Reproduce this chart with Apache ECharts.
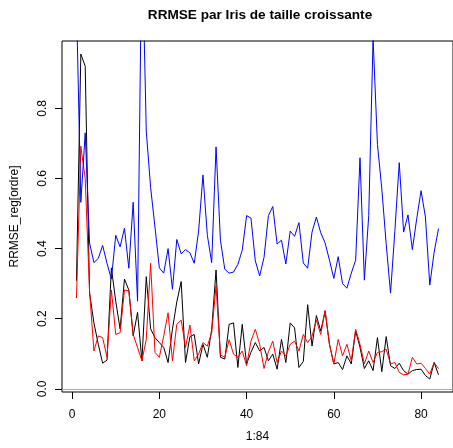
<!DOCTYPE html>
<html>
<head>
<meta charset="utf-8">
<script src="https://cdn.jsdelivr.net/npm/echarts@6/dist/echarts.min.js"></script>
<style>
  html, body { margin: 0; padding: 0; background: #fff; }
  #chart { width: 453px; height: 448px; }
</style>
</head>
<body>
<div id="chart"></div>
<script>
  // RRMSE par Iris (1:84), trois séries
  const rrmseNoir = [
    0.308, 0.955, 0.92, 0.273, 0.188, 0.127, 0.073, 0.082, 0.345, 0.25,
    0.171, 0.313, 0.282, 0.151, 0.218, 0.08, 0.32, 0.171, 0.146, 0.132,
    0.118, 0.075, 0.17, 0.248, 0.306, 0.075, 0.149, 0.155, 0.071, 0.127,
    0.09, 0.17, 0.339, 0.09, 0.085, 0.184, 0.188, 0.061, 0.184, 0.071,
    0.104, 0.132, 0.108, 0.118, 0.08, 0.099, 0.056, 0.141, 0.075, 0.188,
    0.174, 0.061, 0.078, 0.24, 0.122, 0.209, 0.165, 0.221, 0.127, 0.071,
    0.075, 0.055, 0.094, 0.071, 0.165, 0.118, 0.058, 0.08, 0.052, 0.146,
    0.049, 0.149, 0.066, 0.058, 0.073, 0.052, 0.042, 0.052, 0.055, 0.056,
    0.038, 0.028, 0.075, 0.04
  ];
  const rrmseRouge = [
    0.259, 0.692, 0.6, 0.278, 0.108, 0.151, 0.146, 0.09, 0.282, 0.155,
    0.16, 0.282, 0.28, 0.155, 0.118, 0.08, 0.141, 0.358, 0.104, 0.09,
    0.151, 0.217, 0.08, 0.184, 0.196, 0.118, 0.182, 0.08, 0.099, 0.132,
    0.122, 0.16, 0.294, 0.097, 0.09, 0.14, 0.099, 0.09, 0.108, 0.066,
    0.136, 0.17, 0.127, 0.058, 0.106, 0.136, 0.075, 0.108, 0.094, 0.127,
    0.136, 0.108, 0.155, 0.132, 0.15, 0.196, 0.155, 0.224, 0.127, 0.071,
    0.141, 0.094, 0.127, 0.08, 0.17, 0.127, 0.071, 0.108, 0.075, 0.104,
    0.106, 0.113, 0.071, 0.075, 0.047, 0.04, 0.042, 0.09, 0.071, 0.073,
    0.058, 0.042, 0.075, 0.058
  ];
  const rrmseBleu = [
    1.1, 0.532, 0.73, 0.416, 0.36, 0.372, 0.409, 0.358, 0.313, 0.438,
    0.405, 0.458, 0.344, 0.532, 0.25, 1.3, 0.735, 0.574, 0.461, 0.345,
    0.33, 0.4, 0.284, 0.426, 0.385, 0.397, 0.388, 0.358, 0.45, 0.61,
    0.438, 0.36, 0.69, 0.424, 0.341, 0.33, 0.333, 0.355, 0.395, 0.494,
    0.487, 0.365, 0.322, 0.375, 0.494, 0.52, 0.413, 0.424, 0.356, 0.45,
    0.435, 0.474, 0.359, 0.344, 0.447, 0.49, 0.445, 0.416, 0.367, 0.315,
    0.377, 0.3, 0.287, 0.33, 0.367, 0.659, 0.31, 0.494, 1.0, 0.697,
    0.57, 0.414, 0.273, 0.452, 0.645, 0.447, 0.496, 0.397, 0.485, 0.565,
    0.49, 0.296, 0.39, 0.457
  ];
  const xTicks = [0, 20, 40, 60, 80];
  const yTicks = [0, 0.2, 0.4, 0.6, 0.8];

  const font = 'Liberation Sans, Arial, Helvetica, sans-serif';

  function pairs(values) {
    return values.map(function (v, i) {
      return [i + 1, v];
    });
  }

  function lineSerie(values, color) {
    return {
      type: 'line',
      data: pairs(values),
      showSymbol: false,
      symbol: 'none',
      clip: true,
      lineStyle: { color: color, width: 1 },
      animation: false
    };
  }

  const chart = echarts.init(document.getElementById('chart'));
  const options = {
    backgroundColor: '#fff',
    animation: false,
    title: {
      text: 'RRMSE par Iris de taille croissante',
      left: 260,
      top: 8,
      padding: 0,
      textAlign: 'center',
      textStyle: {
        fontFamily: font,
        fontSize: 13.6,
        fontWeight: 'bold',
        color: '#000'
      }
    },
    grid: {
      left: 62,
      top: 41,
      right: -5,
      bottom: 53,
      show: true,
      borderColor: '#000',
      borderWidth: 1,
      backgroundColor: 'transparent'
    },
    xAxis: {
      type: 'value',
      min: -2.32,
      max: 87.32,
      name: '1:84',
      nameLocation: 'middle',
      nameGap: 39,
      nameTextStyle: { fontFamily: font, fontSize: 12, color: '#000' },
      axisLine: { show: false, onZero: false },
      axisTick: {
        show: true,
        inside: false,
        length: 7,
        customValues: xTicks,
        lineStyle: { color: '#000' }
      },
      axisLabel: {
        customValues: xTicks,
        margin: 17,
        fontFamily: font,
        fontSize: 12,
        color: '#000'
      },
      splitLine: { show: false }
    },
    yAxis: {
      type: 'value',
      min: -0.009,
      max: 0.992,
      name: 'RRMSE_reg[ordre]',
      nameLocation: 'middle',
      nameRotate: 90,
      nameGap: 41,
      nameTextStyle: { fontFamily: font, fontSize: 12, color: '#000' },
      axisLine: { show: false, onZero: false },
      axisTick: {
        show: true,
        inside: false,
        length: 7,
        customValues: yTicks,
        lineStyle: { color: '#000' }
      },
      axisLabel: {
        customValues: yTicks,
        rotate: 90,
        margin: 13,
        fontFamily: font,
        fontSize: 12,
        color: '#000',
        formatter: function (v) {
          return v.toFixed(1);
        }
      },
      splitLine: { show: false }
    },
    series: [
      Object.assign(lineSerie(rrmseNoir, '#000000'), {
        markLine: {
          silent: true,
          symbol: 'none',
          label: { show: false },
          lineStyle: { color: '#aaaaaa', width: 1, type: 'solid' },
          data: [{ yAxis: 0 }]
        }
      }),
      lineSerie(rrmseRouge, '#ff0000'),
      lineSerie(rrmseBleu, '#0000ff')
    ]
  };
  chart.setOption(options);
</script>
</body>
</html>
